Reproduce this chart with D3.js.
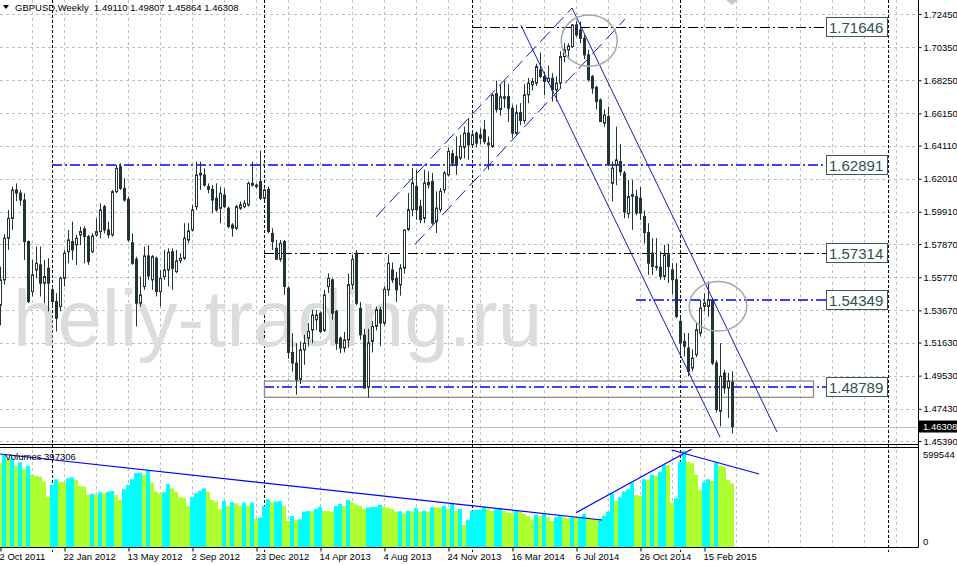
<!DOCTYPE html>
<html lang="en">
<head>
<meta charset="UTF-8" />
<title>GBPUSD Weekly</title>
<script src="https://d3js.org/d3.v7.min.js"></script>
<style>
  body { margin: 0; background: #fff; }
  svg { display: block; font-family: "Liberation Sans", Arial, sans-serif; }
  .grid { stroke: #c0c0c0; stroke-width: 1; stroke-dasharray: 3,3; }
  .sep { stroke: #000; stroke-width: 1; stroke-dasharray: 3,2; }
  .frame { stroke: #000; stroke-width: 1; }
  .axis text { font-size: 9.5px; fill: #000; }
  .level { stroke-dasharray: 10,3,2,3; fill: none; }
  .channel { stroke: #1c1cb0; stroke-width: 1; fill: none; }
  .channel.dash { stroke-dasharray: 14,6; }
  .ring { stroke: #a6a6a6; stroke-width: 1.5; fill: none; }
  .vline { stroke: #0000ff; stroke-width: 1.2; fill: none; }
</style>
</head>
<body>
<svg id="chart" width="957" height="565"></svg>
<script>
// weekly bars, first bar = week of 2 Oct 2011
const opens = [1.5400,1.5560,1.5824,1.5950,1.6130,1.6110,1.6066,1.5803,1.5486,1.5623,1.5655,1.5539,1.5634,1.5497,1.5423,1.5391,1.5570,1.5739,1.5803,1.5782,1.5845,1.5883,1.5834,1.5739,1.5845,1.5866,1.6024,1.5876,1.5845,1.6119,1.6277,1.6140,1.6071,1.5796,1.5691,1.5412,1.5518,1.5712,1.5560,1.5697,1.5486,1.5581,1.5623,1.5739,1.5613,1.5682,1.5697,1.5813,1.5876,1.6024,1.6225,1.6225,1.6151,1.6134,1.6077,1.6014,1.6098,1.6014,1.5908,1.5887,1.6014,1.6024,1.6035,1.6172,1.6151,1.6183,1.6077,1.6134,1.5855,1.5760,1.5691,1.5803,1.5507,1.5100,1.5033,1.4930,1.5117,1.5191,1.5243,1.5307,1.5349,1.5240,1.5518,1.5560,1.5360,1.5191,1.5128,1.5180,1.5530,1.5729,1.5380,1.5210,1.4880,1.5170,1.5265,1.5370,1.5286,1.5497,1.5623,1.5570,1.5528,1.5634,1.5880,1.6005,1.6152,1.6026,1.5950,1.6178,1.6184,1.5931,1.6005,1.6131,1.6226,1.6359,1.6342,1.6332,1.6400,1.6490,1.6416,1.6490,1.6479,1.6511,1.6427,1.6406,1.6740,1.6640,1.6720,1.6722,1.6648,1.6490,1.6620,1.6570,1.6733,1.6796,1.6807,1.6891,1.6849,1.6817,1.6838,1.6764,1.6807,1.6975,1.7018,1.7039,1.7176,1.7144,1.7091,1.6986,1.6849,1.6781,1.6700,1.6553,1.6595,1.6172,1.6289,1.6310,1.6236,1.5980,1.6090,1.6088,1.6078,1.5961,1.5860,1.5730,1.5645,1.5640,1.5582,1.5719,1.5624,1.5561,1.5297,1.5170,1.5128,1.5001,1.5086,1.5223,1.5392,1.5392,1.5424,1.5033,1.4727,1.4970,1.4875,1.49110];
const highs = [1.5644,1.5850,1.6003,1.6151,1.6172,1.6130,1.6109,1.5810,1.5687,1.5771,1.5771,1.5687,1.5697,1.5518,1.5476,1.5581,1.5750,1.5876,1.5929,1.5845,1.5898,1.5898,1.5845,1.5855,1.5950,1.6045,1.6035,1.5929,1.6130,1.6288,1.6299,1.6204,1.6088,1.5855,1.5707,1.5581,1.5771,1.5782,1.5718,1.5707,1.5623,1.5750,1.5760,1.5760,1.5750,1.5729,1.5919,1.5919,1.6035,1.6309,1.6309,1.6267,1.6172,1.6161,1.6172,1.6151,1.6140,1.6024,1.5919,1.6035,1.6056,1.6066,1.6183,1.6309,1.6172,1.6380,1.6140,1.6151,1.5887,1.5813,1.5813,1.5813,1.5520,1.5222,1.5159,1.5170,1.5212,1.5286,1.5370,1.5370,1.5360,1.5497,1.5602,1.5570,1.5370,1.5201,1.5230,1.5600,1.5720,1.5750,1.5420,1.5250,1.5250,1.5300,1.5390,1.5390,1.5520,1.5720,1.5670,1.5610,1.5660,1.5880,1.6110,1.6269,1.6258,1.6068,1.6258,1.6247,1.6237,1.6121,1.6142,1.6250,1.6400,1.6384,1.6469,1.6479,1.6532,1.6585,1.6500,1.6501,1.6520,1.6574,1.6469,1.6740,1.6823,1.6800,1.6820,1.6800,1.6670,1.6670,1.6680,1.6800,1.6840,1.6840,1.6930,1.7000,1.6880,1.6920,1.6870,1.6850,1.7010,1.7060,1.7060,1.7180,1.7200,1.7197,1.7112,1.7018,1.6859,1.6790,1.6710,1.6640,1.6658,1.6310,1.6531,1.6420,1.6250,1.6194,1.6194,1.6130,1.6150,1.6000,1.5919,1.5824,1.5824,1.5740,1.5782,1.5790,1.5666,1.5666,1.5318,1.5223,1.5223,1.5120,1.5286,1.5434,1.5476,1.5550,1.5434,1.5050,1.5160,1.4990,1.4970,1.49807];
const lows = [1.5272,1.5530,1.5750,1.5877,1.6060,1.6030,1.5687,1.5412,1.5455,1.5570,1.5455,1.5412,1.5360,1.5380,1.5233,1.5360,1.5518,1.5665,1.5687,1.5655,1.5780,1.5665,1.5655,1.5729,1.5834,1.5824,1.5855,1.5824,1.5834,1.6109,1.6130,1.6056,1.5803,1.5655,1.5265,1.5391,1.5497,1.5560,1.5497,1.5455,1.5391,1.5560,1.5518,1.5497,1.5602,1.5665,1.5686,1.5792,1.5866,1.6003,1.6130,1.6151,1.6109,1.5982,1.5992,1.5919,1.6014,1.5887,1.5834,1.5876,1.6003,1.6014,1.6024,1.6151,1.6140,1.6066,1.6066,1.5855,1.5750,1.5686,1.5676,1.5465,1.5060,1.4980,1.4832,1.4900,1.5022,1.5138,1.5159,1.5243,1.5222,1.5230,1.5476,1.5307,1.5117,1.5096,1.5100,1.5130,1.5500,1.5400,1.5180,1.4870,1.4814,1.5100,1.5240,1.5140,1.5270,1.5460,1.5540,1.5420,1.5460,1.5600,1.5870,1.5963,1.5941,1.5920,1.5920,1.6140,1.5910,1.5857,1.5990,1.6110,1.6216,1.6280,1.6226,1.6320,1.6330,1.6321,1.6400,1.6400,1.6420,1.6420,1.6258,1.6395,1.6620,1.6600,1.6650,1.6560,1.6460,1.6480,1.6540,1.6550,1.6680,1.6760,1.6790,1.6840,1.6730,1.6810,1.6690,1.6690,1.6770,1.6940,1.6960,1.7030,1.7100,1.7060,1.6960,1.6817,1.6740,1.6640,1.6560,1.6530,1.6280,1.6056,1.6160,1.6220,1.5950,1.5951,1.5877,1.5970,1.5940,1.5790,1.5592,1.5592,1.5620,1.5560,1.5560,1.5540,1.5470,1.5318,1.5075,1.5075,1.4949,1.4980,1.5070,1.5200,1.5360,1.5328,1.5020,1.4720,1.4632,1.4840,1.4685,1.45864];
const closes = [1.5560,1.5824,1.5950,1.6130,1.6110,1.6066,1.5803,1.5423,1.5592,1.5665,1.5539,1.5581,1.5539,1.5423,1.5317,1.5570,1.5729,1.5813,1.5750,1.5824,1.5866,1.5834,1.5676,1.5839,1.5866,1.6003,1.5876,1.5845,1.6119,1.6267,1.6140,1.6066,1.5813,1.5665,1.5412,1.5465,1.5712,1.5585,1.5707,1.5486,1.5570,1.5623,1.5735,1.5634,1.5680,1.5697,1.5824,1.5870,1.6003,1.6225,1.6235,1.6161,1.6134,1.6066,1.6003,1.6109,1.6024,1.5898,1.5887,1.6024,1.6035,1.6045,1.6172,1.6161,1.6161,1.6077,1.6130,1.5866,1.5803,1.5691,1.5792,1.5518,1.5100,1.5033,1.4927,1.5117,1.5159,1.5233,1.5338,1.5338,1.5233,1.5465,1.5570,1.5349,1.5159,1.5128,1.5180,1.5530,1.5690,1.5412,1.5212,1.4875,1.5160,1.5265,1.5370,1.5286,1.5500,1.5665,1.5560,1.5497,1.5634,1.5876,1.6005,1.6174,1.6005,1.5941,1.6174,1.6163,1.5920,1.6015,1.6121,1.6237,1.6374,1.6300,1.6290,1.6406,1.6490,1.6416,1.6479,1.6427,1.6458,1.6437,1.6416,1.6730,1.6640,1.6720,1.6710,1.6648,1.6490,1.6620,1.6570,1.6733,1.6807,1.6817,1.6912,1.6849,1.6817,1.6838,1.6764,1.6807,1.6975,1.7018,1.7043,1.7176,1.7112,1.7091,1.6986,1.6828,1.6775,1.6690,1.6563,1.6605,1.6289,1.6268,1.6320,1.6246,1.5990,1.6088,1.6100,1.5983,1.5983,1.5860,1.5666,1.5645,1.5640,1.5582,1.5719,1.5645,1.5561,1.5329,1.5160,1.5139,1.4980,1.5064,1.5244,1.5381,1.5413,1.5434,1.5033,1.4738,1.4949,1.4875,1.4917,1.46308];
const volumes = [527000,575000,550000,554000,507000,529000,486000,507000,451000,446000,440000,409000,316000,389000,424000,409000,407000,430000,436000,420000,382000,378000,326000,333000,326000,343000,337000,347000,351000,326000,295000,362000,389000,424000,461000,465000,451000,475000,403000,347000,337000,343000,395000,368000,347000,312000,308000,258000,312000,337000,353000,368000,347000,295000,285000,240000,289000,258000,281000,275000,258000,279000,258000,279000,177000,186000,258000,300000,281000,285000,289000,258000,165000,196000,171000,175000,223000,227000,226000,240000,252000,227000,226000,223000,258000,271000,258000,295000,281000,268000,260000,240000,248000,252000,254000,264000,250000,248000,240000,223000,225000,209000,227000,225000,244000,223000,227000,223000,250000,249000,248000,258000,237000,271000,227000,240000,140000,171000,229000,233000,235000,248000,240000,227000,237000,244000,229000,217000,213000,233000,223000,208000,196000,175000,202000,196000,208000,188000,165000,188000,202000,188000,182000,188000,186000,188000,208000,186000,177000,171000,175000,196000,223000,337000,289000,312000,347000,362000,403000,326000,320000,424000,422000,451000,444000,471000,513000,511000,279000,306000,533000,599544,533000,523000,451000,357000,405000,424000,413000,527000,507000,502000,420000,397306];

const priceTicks = [1.7245,1.7035,1.6825,1.6615,1.6411,1.6201,1.5991,1.5787,1.5577,1.5367,1.5163,1.4953,1.4743,1.4539];
const labelBars = [0,16,32,48,64,80,96,112,128,144,160,176];
const dateLabels = ["2 Oct 2011","22 Jan 2012","13 May 2012","2 Sep 2012","23 Dec 2012","14 Apr 2013","4 Aug 2013","24 Nov 2013","16 Mar 2014","6 Jul 2014","26 Oct 2014","15 Feb 2015"];
const yearBars = [13,66,118,170,222];
const volumeTicks = [599544, 0];

// drawn objects, in bar index / price units
const levelPrices = [1.71646,1.62891,1.57314,1.54349,1.48789];
const levelStartBars = [118,13,66,159,66];
const levelColors = ["#000000","#0000ff","#000000","#0000ff","#0000ff"];
const zonePrices = [1.4816,1.4919];
const zoneBars = [66,203.25];
const channelSolid = [[[130.2,1.7175],[180,1.4564]],[[143,1.7283],[194.25,1.4596]]];
const channelDashed = [[[94,1.5959],[143,1.7283]],[[103.75,1.5785],[156.25,1.7213]]];
const rings = [[147.3,1.7076,7,0.0162],[179.5,1.5393,7.2,0.0157]];
const volumeLines = [[[0,580900],[150.5,170900]],[[144,216200],[172.9,610100]],[[167.9,605800],[189.8,456600]]];
const lastPrice = closes[closes.length - 1];

const svg = d3.select("#chart");
const W = +svg.attr("width"), H = +svg.attr("height");
const right = 918;
const mainBottom = 444.5, volTop = 447.5, volBottom = 547.5;

const x = d3.scaleLinear().domain([0, 229.5]).range([0, right]);
const y = d3.scaleLinear().domain([1.4539, 1.7245]).range([441, 14]);
const yv = d3.scaleLinear().domain([0, 599544]).range([547.5, 451]);
const fmt = d3.format(".5f");

svg.append("rect").attr("width", W).attr("height", H).attr("fill", "#fff");

const defs = svg.append("defs");
defs.append("clipPath").attr("id", "clipMain").append("rect")
  .attr("x", 0).attr("y", 0).attr("width", right).attr("height", mainBottom);
defs.append("clipPath").attr("id", "clipVol").append("rect")
  .attr("x", 0).attr("y", volTop + 0.5).attr("width", right).attr("height", volBottom - volTop - 1);

// grid
const grid = svg.append("g");
grid.selectAll("line.gv").data(d3.range(8, 229, 8)).join("line")
  .attr("class", "grid gv")
  .attr("x1", d => x(d) + 0.5).attr("x2", d => x(d) + 0.5)
  .attr("y1", 0).attr("y2", volBottom);
grid.selectAll("line.gh").data(priceTicks).join("line")
  .attr("class", "grid gh")
  .attr("x1", 0).attr("x2", right)
  .attr("y1", d => Math.round(y(d)) + 0.5).attr("y2", d => Math.round(y(d)) + 0.5);

// watermark
svg.append("text").attr("x", 13).attr("y", 346)
  .attr("font-size", 80).attr("fill", "#dcdcdc")
  .text("heliy-trading.ru");

grid.selectAll("line.sep").data(yearBars).join("line")
  .attr("class", "sep")
  .attr("x1", d => x(d) + 0.5).attr("x2", d => x(d) + 0.5)
  .attr("y1", 0).attr("y2", 552);

const main = svg.append("g").attr("clip-path", "url(#clipMain)");

// horizontal levels
const isBlue = k => levelColors[k] === "#0000ff";
const levelY = (d, k) => isBlue(k) ? Math.round(y(d)) : Math.round(y(d)) + 0.5;
main.selectAll("line.level").data(levelPrices).join("line")
  .attr("class", "level")
  .attr("stroke", (d, k) => levelColors[k])
  .attr("stroke-width", (d, k) => isBlue(k) ? 1.6 : 1)
  .attr("x1", (d, k) => x(levelStartBars[k])).attr("x2", x(206.5))
  .attr("y1", levelY).attr("y2", levelY);

main.append("rect")
  .attr("x", x(zoneBars[0]) + 0.5).attr("y", y(zonePrices[1]))
  .attr("width", x(zoneBars[1]) - x(zoneBars[0])).attr("height", y(zonePrices[0]) - y(zonePrices[1]))
  .attr("fill", "none").attr("stroke", "#8c8c8c").attr("stroke-width", 1.3);

main.append("line")
  .attr("x1", 0).attr("x2", right)
  .attr("y1", Math.round(y(lastPrice)) + 0.5).attr("y2", Math.round(y(lastPrice)) + 0.5)
  .attr("stroke", "#c0c0c0");

// candles
const bars = d3.range(opens.length);
const ink = "#223333";
main.selectAll("line.wick").data(bars).join("line")
  .attr("x1", i => x(i) + 0.5).attr("x2", i => x(i) + 0.5)
  .attr("y1", i => y(highs[i])).attr("y2", i => y(lows[i]))
  .attr("stroke", ink);
main.selectAll("rect.body").data(bars).join("rect")
  .attr("x", i => x(i) - 0.5)
  .attr("y", i => y(Math.max(opens[i], closes[i])))
  .attr("width", 2)
  .attr("height", i => Math.max(0.5, Math.abs(y(opens[i]) - y(closes[i]))))
  .attr("fill", i => closes[i] >= opens[i] ? "#fff" : ink)
  .attr("stroke", ink);

// channels
const pline = d3.line().x(d => x(d[0])).y(d => y(d[1]));
main.selectAll("path.cs").data(channelSolid).join("path")
  .attr("class", "channel").attr("d", pline);
main.selectAll("path.cd").data(channelDashed).join("path")
  .attr("class", "channel dash").attr("d", pline);

main.selectAll("ellipse").data(rings).join("ellipse")
  .attr("class", "ring")
  .attr("cx", d => x(d[0])).attr("cy", d => y(d[1]))
  .attr("rx", d => x(d[2]) - x(0)).attr("ry", d => y(d[1] - d[3]) - y(d[1]));

// level price boxes
const boxes = svg.selectAll("g.box").data(levelPrices).join("g")
  .attr("transform", d => `translate(${x(206.5)},${Math.round(y(d))})`);
boxes.append("rect").attr("x", 0.5).attr("y", -9.5).attr("width", 61).attr("height", 19)
  .attr("fill", "#fff").attr("stroke", "#3c5a5a");
boxes.append("text").attr("x", 3).attr("y", 5.5)
  .attr("font-size", 15).attr("fill", "#2f4f4f").text(d => fmt(d));

// header
svg.append("path").attr("d", "M3,5 L9,5 L6,9 Z").attr("fill", "#000");
svg.append("text").attr("x", 15).attr("y", 11).attr("font-size", 9.5)
  .attr("xml:space", "preserve")
  .text(`GBPUSD,Weekly  ${fmt(opens[183])} ${fmt(highs[183])} ${fmt(lows[183])} ${fmt(lastPrice)}`);

// volumes
const vol = svg.append("g").attr("clip-path", "url(#clipVol)");
vol.selectAll("rect").data(bars).join("rect")
  .attr("x", i => x(i) - 2).attr("width", 4)
  .attr("y", i => yv(volumes[i])).attr("height", i => yv(0) - yv(volumes[i]))
  .attr("fill", i => i > 0 && volumes[i] > volumes[i - 1] ? "#00ffff" : "#adff2f");
const vline = d3.line().x(d => x(d[0])).y(d => yv(d[1]));
vol.selectAll("path").data(volumeLines).join("path")
  .attr("class", "vline").attr("d", vline);
svg.append("text").attr("x", 5).attr("y", 460).attr("font-size", 9.5)
  .text("Volumes " + volumes[volumes.length - 1]);

// frames
const frame = svg.append("g");
[mainBottom, volTop, volBottom].forEach(v => frame.append("line").attr("class", "frame")
  .attr("x1", 0).attr("x2", right + 0.5).attr("y1", v).attr("y2", v));
frame.append("line").attr("class", "frame")
  .attr("x1", right + 0.5).attr("x2", right + 0.5).attr("y1", 0).attr("y2", volBottom);

// price axis
const pAxis = svg.append("g").attr("class", "axis")
  .attr("transform", `translate(${right + 0.5},0)`)
  .call(d3.axisRight(y).tickValues(priceTicks).tickFormat(fmt).tickSize(3).tickPadding(2));
pAxis.select(".domain").remove();

const cur = svg.append("g").attr("transform", `translate(${right + 1},${y(lastPrice)})`);
cur.append("rect").attr("x", 0).attr("y", -6).attr("width", W - right).attr("height", 12).attr("fill", "#000");
cur.append("text").attr("x", 4).attr("y", 3.5).attr("font-size", 9.5).attr("fill", "#fff").text(fmt(lastPrice));

svg.selectAll("text.vt").data(volumeTicks).join("text")
  .attr("class", "vt").attr("x", 923)
  .attr("y", d => d ? yv(d) + 6.5 : yv(d) - 2.5)
  .attr("font-size", 9.5).text(d => d);

// time axis
const tAxis = svg.append("g").attr("class", "axis")
  .attr("transform", `translate(0,${volBottom})`)
  .call(d3.axisBottom(x).tickValues(labelBars).tickFormat((d, k) => dateLabels[k]).tickSize(4).tickPadding(2));
tAxis.select(".domain").remove();
tAxis.selectAll(".tick line").attr("transform", "translate(0.5,0)");
tAxis.selectAll(".tick text").attr("text-anchor", "start").attr("dx", -1).attr("y", 6);

// chart shift marker
svg.append("path").attr("d", `M${x(183) - 6},0 L${x(183) + 6},0 L${x(183)},5 Z`).attr("fill", "#c8c8c8");
</script>
</body>
</html>
